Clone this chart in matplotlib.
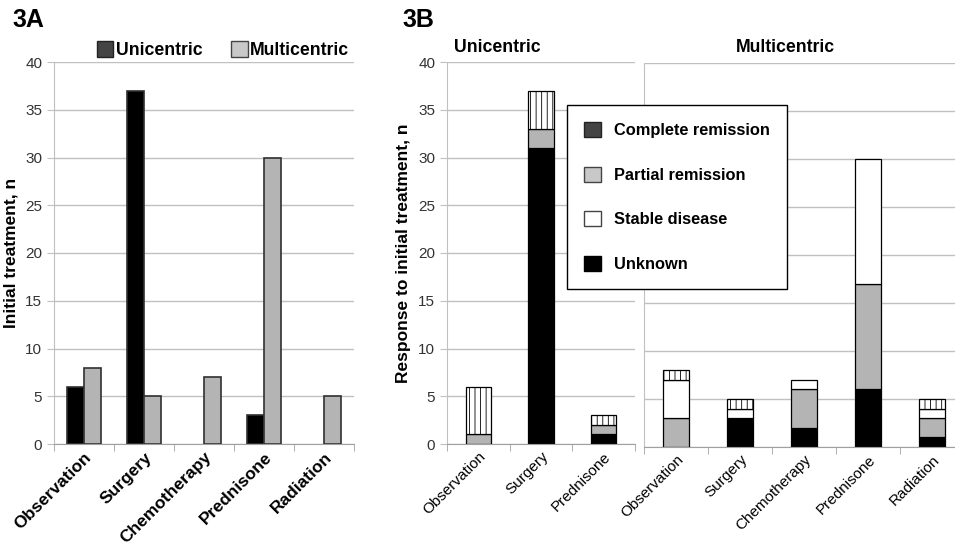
import matplotlib
matplotlib.use('Agg')
import matplotlib.pyplot as plt
from matplotlib.patches import Patch
import numpy as np

plt.rcParams['font.family'] = ['Liberation Sans', 'DejaVu Sans']
plt.rcParams['hatch.linewidth'] = 0.6

# 3A - initial treatment
treatments = ['Observation', 'Surgery', 'Chemotherapy', 'Prednisone', 'Radiation']
uni_counts = [6, 37, 0, 3, 0]
multi_counts = [8, 5, 7, 30, 5]

# 3B - response to initial treatment
uni_treat = ['Observation', 'Surgery', 'Prednisone']
uni_unknown = [0, 31, 1]
uni_partial = [1, 2, 1]
uni_stable = [0, 0, 0]
uni_complete = [5, 4, 1]

multi_treat = ['Observation', 'Surgery', 'Chemotherapy', 'Prednisone', 'Radiation']
multi_unknown = [0, 3, 2, 6, 1]
multi_partial = [3, 0, 4, 11, 2]
multi_stable = [4, 1, 1, 13, 1]
multi_complete = [1, 1, 0, 0, 1]

GRID = '#c0c0c0'
GRAY = '#b4b4b4'
W, H = 955, 548


def box(l, t, r, b):
    # pixel box -> figure fraction
    return [l / W, 1 - b / H, (r - l) / W, (b - t) / H]


def style_axes(ax, n, show_y=True):
    ax.set_ylim(0, 40)
    ax.set_yticks(range(0, 41, 5))
    ax.set_xlim(-0.5, n - 0.5)
    ax.yaxis.grid(True, color=GRID, linewidth=1)
    ax.set_axisbelow(True)
    for s in ['top', 'right']:
        ax.spines[s].set_visible(False)
    ax.spines['left'].set_color(GRID)
    ax.spines['bottom'].set_color('#a0a0a0')
    ax.set_xticks(np.arange(n))
    ax.set_xticks(np.arange(n + 1) - 0.5, minor=True)
    ax.tick_params(axis='x', which='major', length=0, pad=4)
    ax.tick_params(axis='x', which='minor', length=5, color='#a0a0a0')
    ax.tick_params(axis='y', length=5, color=GRID, labelsize=11,
                   labelcolor='#333333', labelleft=show_y)


def stacked(ax, names, layers):
    x = np.arange(len(names))
    bottom = np.zeros(len(names))
    for vals, fc, hatch in layers:
        vals = np.array(vals, dtype=float)
        keep = vals > 0
        ax.bar(x[keep], vals[keep], 0.4, bottom=bottom[keep], color=fc,
               edgecolor='black', linewidth=0.9, hatch=hatch)
        bottom += vals


fig = plt.figure(figsize=(9.55, 5.48), dpi=100)

# ---- 3A
ax1 = fig.add_axes(box(54, 62, 354, 444))
x = np.arange(len(treatments))
bw = 0.283
u = np.array(uni_counts)
m = np.array(multi_counts)
ax1.bar(x[u > 0] - bw / 2, u[u > 0], bw, color='black', edgecolor='#303030', linewidth=1.2)
ax1.bar(x + bw / 2, m, bw, color=GRAY, edgecolor='#303030', linewidth=1.2)
style_axes(ax1, len(treatments))
ax1.set_xticklabels(treatments, rotation=45, ha='right', rotation_mode='anchor',
                    fontsize=12.5, fontweight='bold')
ax1.set_ylabel('Initial treatment, n', fontsize=12.5, fontweight='bold', labelpad=5)

fig.legend(handles=[Patch(facecolor='#444444', edgecolor='#222222', label='Unicentric'),
                    Patch(facecolor='#c8c8c8', edgecolor='#444444', label='Multicentric')],
           loc='center', bbox_to_anchor=(223 / W, 1 - 50 / H), ncol=2, frameon=False,
           prop={'size': 12.7, 'weight': 'bold'}, handlelength=0.95, handleheight=1.0,
           handletextpad=0.15, columnspacing=1.6)

fig.text(12 / W, 1 - 20 / H, '3A', fontsize=18, fontweight='bold', va='center')
fig.text(402 / W, 1 - 20 / H, '3B', fontsize=18, fontweight='bold', va='center')

# ---- 3B unicentric
ax2 = fig.add_axes(box(447, 62, 635, 444))
stacked(ax2, uni_treat, [(uni_unknown, 'black', None), (uni_partial, GRAY, None),
                         (uni_stable, 'white', None), (uni_complete, 'white', '|||')])
style_axes(ax2, len(uni_treat))
ax2.set_xticklabels(uni_treat, rotation=45, ha='right', rotation_mode='anchor', fontsize=11)
ax2.set_ylabel('Response to initial treatment, n', fontsize=12.5, fontweight='bold', labelpad=5)
fig.text(497 / W, 1 - 48 / H, 'Unicentric', fontsize=12.7, fontweight='bold',
         ha='center', va='center')

# ---- 3B multicentric (runs off the right edge)
ax3 = fig.add_axes(box(644, 63, 964, 447))
stacked(ax3, multi_treat, [(multi_unknown, 'black', None), (multi_partial, GRAY, None),
                           (multi_stable, 'white', None), (multi_complete, 'white', '|||')])
style_axes(ax3, len(multi_treat), show_y=False)
ax3.tick_params(axis='y', length=0)
ax3.set_xticklabels(multi_treat, rotation=45, ha='right', rotation_mode='anchor', fontsize=11)
fig.text(785 / W, 1 - 48 / H, 'Multicentric', fontsize=12.7, fontweight='bold',
         ha='center', va='center')

leg = fig.legend(handles=[Patch(facecolor='#444444', edgecolor='#222222', label='Complete remission'),
                          Patch(facecolor='#c8c8c8', edgecolor='#444444', label='Partial remission'),
                          Patch(facecolor='white', edgecolor='#444444', label='Stable disease'),
                          Patch(facecolor='black', edgecolor='black', label='Unknown')],
                 loc='upper left', bbox_to_anchor=(567 / W, 1 - 105 / H), frameon=True,
                 fancybox=False, edgecolor='black', framealpha=1,
                 prop={'size': 11.8, 'weight': 'bold'}, handlelength=1.0, handleheight=1.0,
                 handletextpad=0.8, labelspacing=1.75, borderpad=1.05, borderaxespad=0)
leg.get_frame().set_linewidth(1.0)

fig.savefig('out.png', dpi=100)
